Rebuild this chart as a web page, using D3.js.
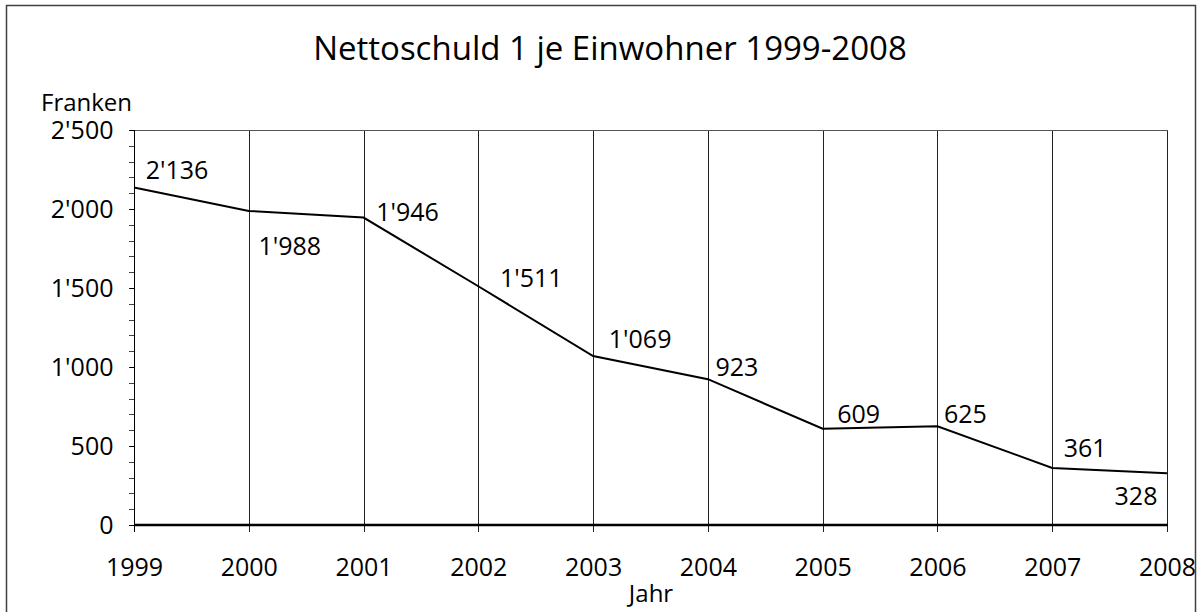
<!DOCTYPE html>
<html><head><meta charset="utf-8">
<script src="https://cdn.jsdelivr.net/npm/d3@7"></script>
<style>
html,body{margin:0;padding:0;background:#fff;}
svg{display:block;}
text{font-family:"Open Sans",sans-serif;fill:#000;}
</style></head>
<body>
<svg id="chart" width="1201" height="612"></svg>
<script>
const years = [1999,2000,2001,2002,2003,2004,2005,2006,2007,2008];
const values = [2136,1988,1946,1511,1069,923,609,625,361,328];
const valueLabels = ["2'136","1'988","1'946","1'511","1'069","923","609","625","361","328"];
const yTickValues = [0,500,1000,1500,2000,2500];
const yTickLabels = ["0","500","1'000","1'500","2'000","2'500"];
const title = "Nettoschuld 1 je Einwohner 1999-2008";
const yTitle = "Franken";
const xTitle = "Jahr";
// label placement offsets (dx, dy relative to point, text centre)
const labelOffsets = [[43,-19],[41,34],[44,-7],[53,-9],[47,-18],[29,-13],[36,-16],[28,-13],[33,-21],[-31,22]];

const svg = d3.select("#chart");
const L = 134, R = 1167, T = 130, B = 525;
const FS = "25px";

// outer frame
svg.append("path").attr("d", `M6.5,${612+5} V5.5 H1195.5 V${612+5}`)
  .attr("fill","none").attr("stroke","#404040").attr("stroke-width",1.5);

const x = d3.scaleLinear().domain([1999,2008]).range([L,R]);
const y = d3.scaleLinear().domain([0,2500]).range([B,T]);

// title
svg.append("text").attr("x",610).attr("y",47).attr("text-anchor","middle")
  .attr("dominant-baseline","central").style("font-size","33px").text(title);
svg.append("text").attr("x",41).attr("y",101).attr("dominant-baseline","central")
  .style("font-size","24px").text(yTitle);
svg.append("text").attr("x",651).attr("y",592).attr("text-anchor","middle")
  .attr("dominant-baseline","central").style("font-size","24px").text(xTitle);

// vertical gridlines
svg.append("g").selectAll("line").data(years.slice(1)).join("line")
  .attr("x1",d=>Math.round(x(d))+0.5).attr("x2",d=>Math.round(x(d))+0.5)
  .attr("y1",T).attr("y2",B+7).attr("stroke","#222").attr("stroke-width",1);
// top line
svg.append("line").attr("x1",L).attr("x2",R+1).attr("y1",T+0.5).attr("y2",T+0.5)
  .attr("stroke","#555").attr("stroke-width",1);

// y axis minor ticks
const minor = d3.range(0,2501,100);
svg.append("g").selectAll("line").data(minor).join("line")
  .attr("x1",L-5).attr("x2",L).attr("y1",d=>Math.round(y(d))+0.5).attr("y2",d=>Math.round(y(d))+0.5)
  .attr("stroke","#444").attr("stroke-width",1);

// y axis
const yAxis = d3.axisLeft(y).tickValues(yTickValues).tickFormat((d,i)=>yTickLabels[i]).tickSize(5).tickPadding(16);
const gy = svg.append("g").attr("transform",`translate(${L+0.5},0)`).call(yAxis);
gy.select(".domain").attr("d",`M0,${T}V${B+7}`).attr("stroke","#000");
gy.selectAll(".tick line").attr("stroke","#000");
gy.selectAll("text").style("font-size",FS).style("font-family","'Open Sans',sans-serif").attr("fill","#000");

// x axis
const xAxis = d3.axisBottom(x).tickValues(years).tickFormat(d3.format("d")).tickSize(0).tickPadding(0);
const gx = svg.append("g").attr("transform",`translate(0,${B})`).call(xAxis);
gx.select(".domain").remove();
gx.selectAll("text").style("font-size",FS).style("font-family","'Open Sans',sans-serif").attr("fill","#000")
  .attr("y",41).attr("dy","0").attr("dominant-baseline","central");
svg.append("g").selectAll("line").data([years[0]]).join("line")
  .attr("x1",d=>x(d)+0.5).attr("x2",d=>x(d)+0.5).attr("y1",B).attr("y2",B+7).attr("stroke","#000");
// zero line
svg.append("line").attr("x1",L).attr("x2",R+1).attr("y1",B).attr("y2",B)
  .attr("stroke","#000").attr("stroke-width",2.5);

// data line
const line = d3.line().x((d,i)=>x(years[i])).y(d=>y(d));
svg.append("path").datum(values).attr("d",line).attr("fill","none")
  .attr("stroke","#000").attr("stroke-width",2);

// value labels
svg.append("g").selectAll("text").data(values).join("text")
  .attr("x",(d,i)=>x(years[i])+labelOffsets[i][0])
  .attr("y",(d,i)=>y(d)+labelOffsets[i][1])
  .attr("text-anchor","middle").attr("dominant-baseline","central")
  .style("font-size",FS).text((d,i)=>valueLabels[i]);
</script>
</body></html>
